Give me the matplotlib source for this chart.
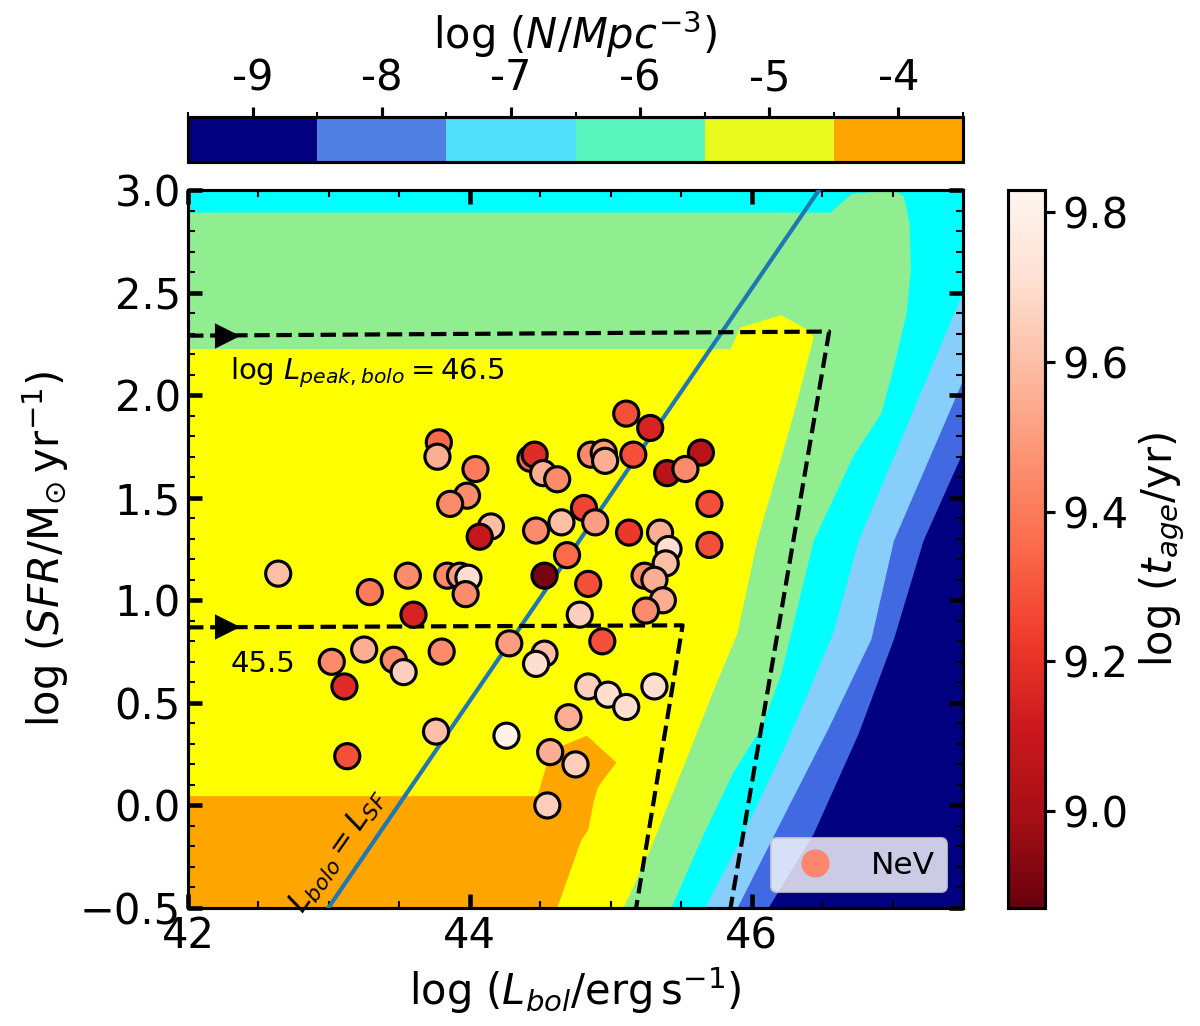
import numpy as np
import matplotlib
matplotlib.use("Agg")
import matplotlib.pyplot as plt
from matplotlib.colors import ListedColormap, BoundaryNorm
from matplotlib.lines import Line2D
from matplotlib.ticker import MultipleLocator
import matplotlib.cm as cm

# NeV sources: log L_bol, log SFR, log t_age
lbol = [43.78, 43.77, 44.04, 43.98, 43.86, 44.15, 44.07, 42.64, 43.56, 43.29,
        43.84, 43.93, 43.99, 43.97, 43.60, 45.11, 45.28, 44.43, 44.46, 44.52,
        44.62, 44.86, 44.95, 44.96, 45.16, 45.64, 45.40, 45.53, 45.70, 44.81,
        44.89, 44.65, 44.47, 45.13, 45.35, 45.41, 45.39, 45.70, 44.69, 45.24,
        45.31, 44.53, 44.84, 45.37, 45.25, 44.78, 44.28, 44.94, 43.02, 43.25,
        43.46, 43.53, 43.11, 43.80, 43.13, 43.76, 44.26, 44.53, 44.47, 44.84,
        44.98, 45.11, 45.31, 44.70, 44.57, 44.75, 44.55]
sfr = [1.77, 1.70, 1.64, 1.51, 1.47, 1.36, 1.31, 1.13, 1.12, 1.04,
       1.12, 1.12, 1.11, 1.03, 0.93, 1.91, 1.84, 1.69, 1.71, 1.62,
       1.59, 1.71, 1.72, 1.68, 1.71, 1.72, 1.62, 1.64, 1.47, 1.45,
       1.38, 1.38, 1.34, 1.33, 1.33, 1.25, 1.18, 1.27, 1.22, 1.12,
       1.10, 1.12, 1.08, 1.00, 0.95, 0.93, 0.79, 0.80, 0.70, 0.76,
       0.71, 0.65, 0.58, 0.75, 0.24, 0.36, 0.34, 0.74, 0.69, 0.58,
       0.54, 0.48, 0.58, 0.43, 0.26, 0.20, 0.00]
tage = [9.35, 9.55, 9.40, 9.45, 9.45, 9.60, 9.10, 9.60, 9.45, 9.40,
        9.45, 9.50, 9.70, 9.45, 9.15, 9.28, 9.15, 9.35, 9.18, 9.55,
        9.45, 9.45, 9.50, 9.55, 9.28, 9.05, 9.05, 9.45, 9.28, 9.25,
        9.50, 9.60, 9.45, 9.22, 9.55, 9.70, 9.60, 9.28, 9.35, 9.45,
        9.55, 8.90, 9.28, 9.55, 9.45, 9.65, 9.50, 9.28, 9.45, 9.55,
        9.45, 9.65, 9.18, 9.45, 9.28, 9.60, 9.80, 9.60, 9.70, 9.65,
        9.70, 9.70, 9.70, 9.55, 9.55, 9.65, 9.65]

# number density regions (outlines in log L_bol, log SFR), outer first
royal_x = [42.0, 46.12, 46.44, 46.76, 47.01, 47.22, 47.5, 47.5, 42.0]
royal_y = [-0.5, -0.5, -0.14, 0.35, 0.81, 1.29, 1.72, 3.0, 3.0]
sky_x = [42.0, 45.90, 46.26, 46.55, 46.85, 47.01, 47.5, 47.5, 42.0]
sky_y = [-0.5, -0.5, -0.01, 0.38, 0.81, 1.29, 2.07, 3.0, 3.0]
cyan_x = [42.0, 45.67, 45.92, 46.26, 46.58, 46.76, 47.5, 47.5, 42.0]
cyan_y = [-0.5, -0.5, -0.17, 0.32, 0.84, 1.29, 2.50, 3.0, 3.0]
green_x = [42.0, 45.43, 45.66, 45.87, 46.07, 46.21, 46.44, 46.72, 46.92, 47.01,
           47.10, 47.13, 47.12, 47.08, 47.03, 46.85, 46.71, 46.56, 42.0]
green_y = [-0.5, -0.5, -0.14, 0.16, 0.38, 0.64, 1.29, 1.70, 1.91, 2.14,
           2.40, 2.61, 2.84, 2.97, 2.99, 2.99, 2.98, 2.89, 2.89]
yellow_x = [42.0, 45.09, 45.26, 45.40, 45.57, 45.73, 45.90, 46.04, 46.30, 46.44,
            46.42, 46.21, 45.92, 45.85, 42.0]
yellow_y = [-0.5, -0.5, -0.25, -0.01, 0.28, 0.56, 0.84, 1.29, 1.91, 2.28,
            2.31, 2.39, 2.33, 2.225, 2.225]
orange_x = [42.0, 44.62, 44.79, 44.84, 44.88, 44.91, 45.04, 44.83, 44.62, 44.55, 44.48, 42.0]
orange_y = [-0.5, -0.5, -0.17, -0.12, 0.02, 0.09, 0.21, 0.34, 0.28, 0.21, 0.045, 0.045]

# L_bolo = L_SF relation
lsf_x = [42.995, 46.478]
lsf_y = [-0.5, 3.0]
# peak luminosity tracks
peak465_x = [42.0, 46.55, 45.85]
peak465_y = [2.29, 2.31, -0.5]
peak455_x = [42.0, 45.51, 45.18]
peak455_y = [0.868, 0.878, -0.5]

# top colour bar
n_bounds = [-9.5, -8.5, -7.5, -6.5, -5.5, -4.5, -3.5]
n_ticks = [-9, -8, -7, -6, -5, -4]
n_colors = ['#000080', '#5080e4', '#52e0fc', '#58f6be', '#e8fa1e', '#ffa500']

fig = plt.figure(figsize=(8, 6.84), dpi=150)
ax = fig.add_axes([0.1567, 0.115, 0.6458, 0.6998])
cax_top = fig.add_axes([0.1567, 0.8421, 0.6458, 0.0439])
cax_right = fig.add_axes([0.84, 0.115, 0.0308, 0.6998])

ax.set_facecolor('navy')
for xs, ys, col in [(royal_x, royal_y, 'royalblue'), (sky_x, sky_y, 'lightskyblue'),
                    (cyan_x, cyan_y, 'cyan'), (green_x, green_y, 'lightgreen'),
                    (yellow_x, yellow_y, 'yellow'), (orange_x, orange_y, 'orange')]:
    ax.fill(xs, ys, color=col, lw=0, zorder=1)

ax.plot(lsf_x, lsf_y, color='tab:blue', lw=2, zorder=3)
ax.plot(peak465_x, peak465_y, 'k--', lw=2, zorder=3)
ax.plot(peak455_x, peak455_y, 'k--', lw=2, zorder=3)
ax.plot([42.28], [peak465_y[0]], 'k>', ms=11, zorder=4)
ax.plot([42.28], [peak455_y[0]], 'k>', ms=11, zorder=4)

ax.text(42.3, 2.11, r'log $L_{peak,bolo} = 46.5$', fontsize=14, va='center', ha='left')
ax.text(42.3, 0.69, '45.5', fontsize=14, va='center', ha='left')
ax.text(43.06, -0.22, r'$L_{bolo} = L_{SF}$', fontsize=14.5, rotation=55,
        va='center', ha='center')

sc = ax.scatter(lbol, sfr, c=tage, cmap='Reds_r', vmin=8.87, vmax=9.83, s=145,
                edgecolors='black', linewidths=1.5, zorder=5)

handle = Line2D([], [], marker='o', ls='', color='#fa876e', ms=12.5)
ax.legend([handle], ['NeV'], loc='lower right', fontsize=15)

ax.set_xlim(42, 47.5)
ax.set_ylim(-0.5, 3.0)
ax.xaxis.set_major_locator(MultipleLocator(2))
ax.xaxis.set_minor_locator(MultipleLocator(0.5))
ax.yaxis.set_major_locator(MultipleLocator(0.5))
ax.yaxis.set_minor_locator(MultipleLocator(0.1))
ax.tick_params(which='major', direction='in', length=6.5, width=2.2, top=True,
               right=True, labelsize=20)
ax.tick_params(which='minor', direction='in', length=3.5, width=1, top=True, right=True)
for sp in ax.spines.values():
    sp.set_linewidth(1.5)
ax.set_xlabel(r'log $(L_{bol}/\mathrm{erg\,s^{-1}})$', fontsize=20)
ax.set_ylabel(r'log $(SFR/\mathrm{M_{\odot}\,yr^{-1}})$', fontsize=20)

cb = fig.colorbar(sc, cax=cax_right)
cb.set_ticks([9.0, 9.2, 9.4, 9.6, 9.8])
cb.ax.tick_params(labelsize=20, length=5, width=1.5)
cb.outline.set_linewidth(1.5)
cb.set_label(r'log $(t_{age}/\mathrm{yr})$', fontsize=20)

cmap_n = ListedColormap(n_colors)
norm_n = BoundaryNorm(n_bounds, cmap_n.N)
cbt = fig.colorbar(cm.ScalarMappable(norm=norm_n, cmap=cmap_n), cax=cax_top,
                   orientation='horizontal', spacing='proportional')
cax_top.xaxis.set_ticks_position('top')
cax_top.xaxis.set_label_position('top')
cbt.set_ticks(n_ticks)
cbt.set_ticklabels([str(t) for t in n_ticks])
cax_top.set_xticks(n_bounds, minor=True)
cax_top.tick_params(which='major', labelsize=20, length=5, width=1.5)
cax_top.tick_params(which='minor', length=2.5, width=1)
cbt.outline.set_linewidth(1.5)
cbt.set_label(r'log $(N/Mpc^{-3})$', fontsize=20)

fig.savefig('out.png', dpi=150)
